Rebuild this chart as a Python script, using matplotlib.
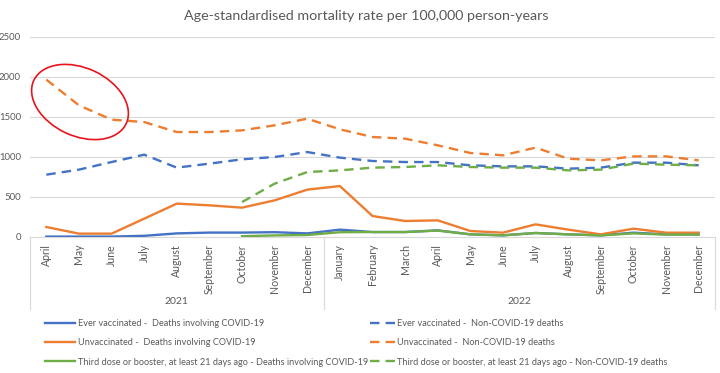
import matplotlib
matplotlib.use("Agg")
import matplotlib.pyplot as plt
from matplotlib.patches import Ellipse
import numpy as np

# Lato : ce qu'on a de plus proche de Calibri
plt.rcParams['font.family'] = ['Lato', 'DejaVu Sans']

months = ["April", "May", "June", "July", "August", "September", "October", "November", "December",
          "January", "February", "March", "April", "May", "June", "July", "August", "September",
          "October", "November", "December"]
years = ["2021", "2022"]
months_per_year = [9, 12]

ever_covid = [5, 5, 5, 15, 45, 55, 55, 60, 45, 92, 62, 62, 83, 33, 21, 50, 33, 21, 54, 33, 33]
ever_non = [779, 842, 937, 1029, 867, 917, 971, 1000, 1062, 992, 950, 937, 937, 896, 883, 883,
            854, 867, 929, 929, 896]
unvax_covid = [125, 42, 42, 229, 417, 396, 367, 458, 592, 637, 262, 200, 208, 75, 54, 158, 92,
               33, 104, 54, 54]
unvax_non = [1967, 1646, 1467, 1437, 1312, 1312, 1333, 1396, 1479, 1346, 1250, 1229, 1146, 1050,
             1021, 1117, 979, 958, 1008, 1008, 958]
# troisieme dose : pas de donnees avant octobre 2021
booster_covid = [None] * 6 + [10, 20, 25, 60, 62, 62, 80, 33, 21, 50, 33, 20, 45, 30, 30]
booster_non = [None] * 6 + [437, 667, 812, 833, 867, 875, 896, 875, 867, 867, 833, 842, 917,
                            904, 896]

blue, orange, green = "#4472C4", "#ED7D31", "#70AD47"
grey = "#595959"

fig = plt.figure(figsize=(7.2, 3.73), dpi=100)
ax = fig.add_axes([30 / 720, 1 - 237 / 373, 685 / 720, 200 / 373])

x = np.arange(len(months))


def arr(v):
    return np.array([np.nan if a is None else a for a in v], dtype=float)


dash = (0, (4, 2.6))
series = [
    (ever_covid, blue, '-', "Ever vaccinated -  Deaths involving COVID-19"),
    (unvax_covid, orange, '-', "Unvaccinated -  Deaths involving COVID-19"),
    (booster_covid, green, '-', "Third dose or booster, at least 21 days ago - Deaths involving COVID-19"),
    (ever_non, blue, dash, "Ever vaccinated -  Non-COVID-19 deaths"),
    (unvax_non, orange, dash, "Unvaccinated -  Non-COVID-19 deaths"),
    (booster_non, green, dash, "Third dose or booster, at least 21 days ago - Non-COVID-19 deaths"),
]
handles = []
for vals, col, ls, lab in series:
    h, = ax.plot(x, arr(vals), color=col, ls=ls, lw=1.7, label=lab, zorder=3)
    handles.append(h)

ax.set_xlim(-0.5, len(months) - 0.5)
ax.set_ylim(0, 2500)
ax.set_yticks(np.arange(0, 2501, 500))
ax.grid(axis='y', color="#D9D9D9", lw=0.8)
ax.set_axisbelow(True)
for s in ['left', 'right', 'top']:
    ax.spines[s].set_visible(False)
ax.spines['bottom'].set_color("#D9D9D9")
ax.tick_params(axis='y', length=0, labelsize=6.9, labelcolor=grey, pad=6.5)
ax.set_xticks(x)
ax.set_xticklabels(months, rotation=90, va='top', ha='center')
ax.tick_params(axis='x', length=0, labelsize=7.6, labelcolor=grey, pad=5)

# axe a deux niveaux : separateurs et annees
bounds = np.concatenate([[0], np.cumsum(months_per_year)]) - 0.5
trans = ax.get_xaxis_transform()
for b in bounds:
    ax.plot([b, b], [0, -0.36], color="#D9D9D9", lw=0.8, transform=trans, clip_on=False)
for i, yr in enumerate(years):
    ax.text((bounds[i] + bounds[i + 1]) / 2, -0.325, yr, transform=trans, ha='center',
            va='center', fontsize=7.5, color=grey)

fig.text(0.508, 0.958, "Age-standardised mortality rate per 100,000 person-years",
         ha='center', va='center', fontsize=10.3, color=grey)

# legende en deux colonnes posees a la main
leg_kw = dict(loc='upper left', frameon=False, fontsize=6.6, handlelength=3.3, labelspacing=1.12,
              handletextpad=0.25, labelcolor=grey, borderpad=0, borderaxespad=0)
fig.legend(handles=handles[:3], bbox_to_anchor=(45 / 720, 1 - 319 / 373), **leg_kw)
leg_kw['handlelength'] = 2.75
fig.legend(handles=handles[3:], bbox_to_anchor=(370 / 720, 1 - 319 / 373), **leg_kw)

# le cercle rouge dessine a la main sur l'original
fig.patches.append(Ellipse((0.80, (373 - 102) / 100), 1.02, 0.68, angle=-25, fill=False,
                           ec="#E8141C", lw=1.2, transform=fig.dpi_scale_trans))

plt.savefig("out.png", dpi=100)
